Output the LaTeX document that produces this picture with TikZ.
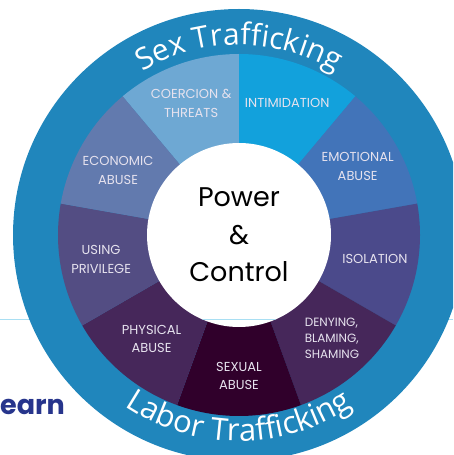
\documentclass[tikz,border=0pt]{standalone}
\usepackage{fontspec}
\usepackage{tikz}
\usetikzlibrary{positioning,calc,decorations.text}
\newfontfamily\poppins{Poppins}
\newfontfamily\opensans{Open Sans}
\definecolor{ring}{HTML}{2086BC}
\definecolor{coerc}{HTML}{6EA8D3}
\definecolor{intim}{HTML}{12A1DC}
\definecolor{emot}{HTML}{4274B9}
\definecolor{isol}{HTML}{4B4A8B}
\definecolor{deny}{HTML}{46275A}
\definecolor{sexual}{HTML}{30002B}
\definecolor{phys}{HTML}{46275A}
\definecolor{priv}{HTML}{534D83}
\definecolor{econ}{HTML}{627AAE}
\definecolor{labeltext}{HTML}{E6E2EE}
\definecolor{navy}{HTML}{27358C}
\definecolor{rule}{HTML}{A9DFF3}

\begin{document}
\begin{tikzpicture}[x=1pt, y=1pt,
    seg/.style={font=\poppins\fontsize{13}{18.5}\selectfont, text=labeltext, align=center, inner sep=0pt}]
    \clip (0,0) rectangle (453,455);
    \coordinate (C) at (239,220);
    \coordinate (L1) at (0,135);
    \coordinate (L2) at (453,135);
    \draw [rule, line width=1pt] (L1) -- (L2);

    % outer ring and the nine wedges
    \fill [ring] (C) circle (226);
    \foreach \a/\col in {110/coerc, 70/intim, 30/emot, -10/isol, -50/deny, -90/sexual, -130/phys, -170/priv, 150/econ}
        \fill [\col] (C) -- ($(C)+(\a-20:181)$) arc [start angle=\a-20, end angle=\a+20, radius=181] -- cycle;

    \node [circle, fill=white, minimum size=184pt, inner sep=0pt, align=center,
        font=\poppins\fontsize{27}{37.5}\selectfont] (PC) at (C) {Power\\\&\\Control};
    \begin{scope}
        \clip (C) circle (92);
        \draw [rule, line width=1pt] (L1) -- (L2);
    \end{scope}

    \node [seg] (coerc) at ($(C)+(110:140)$) {COERCION \&\\THREATS};
    \node [seg] (intim) at ($(C)+(70:141)$) {INTIMIDATION};
    \node [seg] (emot) at ($(C)+(30:137)$) {EMOTIONAL\\ABUSE};
    \node [seg] (isol) at ($(C)+(-10:138)$) {ISOLATION};
    \node [seg, align=left, font=\poppins\fontsize{12}{16}\selectfont] (deny) at ($(C)+(-48:139)$) {DENYING,\\BLAMING,\\SHAMING};
    \node [seg] (sexual) at ($(C)+(-90:141)$) {SEXUAL\\ABUSE};
    \node [seg] (phys) at ($(C)+(-130:136)$) {PHYSICAL\\ABUSE};
    \node [seg] (priv) at ($(C)+(-170:140)$) {USING\\PRIVILEGE};
    \node [seg] (econ) at ($(C)+(152:137)$) {ECONOMIC\\ABUSE};

    % ring titles
    \path [shift={(C)}, decorate, decoration={text along path, text align=center, text color=white,
        text={|\opensans\fontsize{30}{30}\selectfont|Sex Trafficking}}]
        (160:190) arc [start angle=160, end angle=20, radius=190];
    \path [shift={(C)}, decorate, decoration={text along path, text align=center, text color=white,
        text={|\opensans\fontsize{31}{31}\selectfont|Labor Trafficking}}]
        (200:206) arc [start angle=200, end angle=340, radius=206];

    \node [font=\poppins\bfseries\fontsize{27}{27}\selectfont, text=navy, anchor=base west, inner sep=0pt] (learn) at (0,40) {earn};
\end{tikzpicture}
\end{document}
